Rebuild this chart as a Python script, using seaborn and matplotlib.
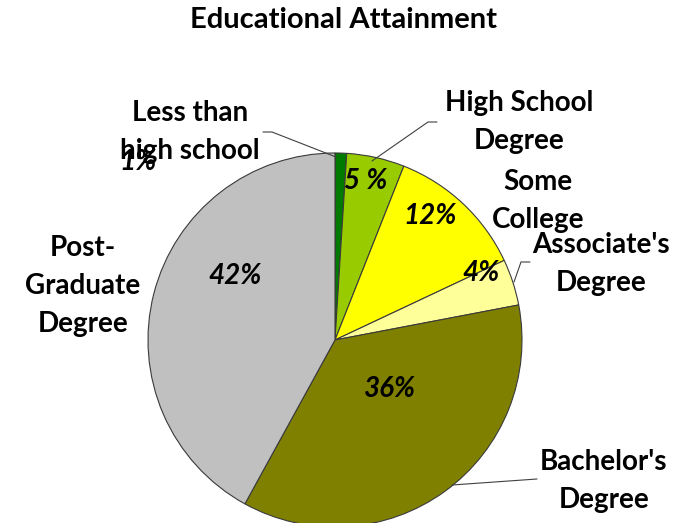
import matplotlib
matplotlib.use("Agg")
import matplotlib.pyplot as plt
import seaborn as sns

# data
categories = ["Less than\nhigh school", "High School\nDegree", "Some\nCollege",
              "Associate's\nDegree", "Bachelor's\nDegree", "Post-\nGraduate\nDegree"]
values = [1, 5, 12, 4, 36, 42]
pct_text = ["1%", "5 %", "12%", "4%", "36%", "42%"]
colors = ["#007A00", "#99CC00", "#FFFF00", "#FFFF99", "#808000", "#C0C0C0"]

sns.set_theme(style="white")
plt.rcParams["font.family"] = ["Lato", "DejaVu Sans"]

fig = plt.figure(figsize=(6.9, 5.23), dpi=100)
ax = fig.add_axes([0, 0, 1, 1])

# pixel coords, y axis points down -> counterclock in data = clockwise on screen
cx, cy, r = 335, 340, 187
ax.pie(values, colors=colors, startangle=-90, counterclock=True,
       center=(cx, cy), radius=r,
       wedgeprops=dict(edgecolor="#3a3a3a", linewidth=0.8))
ax.set_xlim(0, 690)
ax.set_ylim(523, 0)
ax.axis("off")

# percent labels
pct_pos = [(138, 162), (366, 181), (430, 216), (481, 273), (390, 389), (235, 276)]
for txt, (x, y) in zip(pct_text, pct_pos):
    ax.text(x, y, txt, ha="center", va="center", fontsize=20,
            fontweight="bold", fontstyle="italic", color="black")

# category labels
lab_pos = [(190, 132), (519, 122), (538, 201), (601, 264), (604, 481), (83, 286)]
for txt, (x, y) in zip(categories, lab_pos):
    ax.text(x, y, txt, ha="center", va="center", fontsize=20,
            fontweight="bold", color="black", linespacing=1.55)

# leader lines
leaders = [
    [(263, 132), (272, 132), (336, 157)],
    [(437, 122), (428, 122), (372, 161)],
    [(530, 262), (521, 262), (514, 282)],
    [(537, 479), (452, 485)],
]
for pts in leaders:
    xs, ys = zip(*pts)
    ax.plot(xs, ys, color="#404040", linewidth=0.8)

ax.text(343, 20, "Educational Attainment", ha="center", va="center",
        fontsize=21, fontweight="bold", color="black")

fig.savefig("out.png", dpi=100)
